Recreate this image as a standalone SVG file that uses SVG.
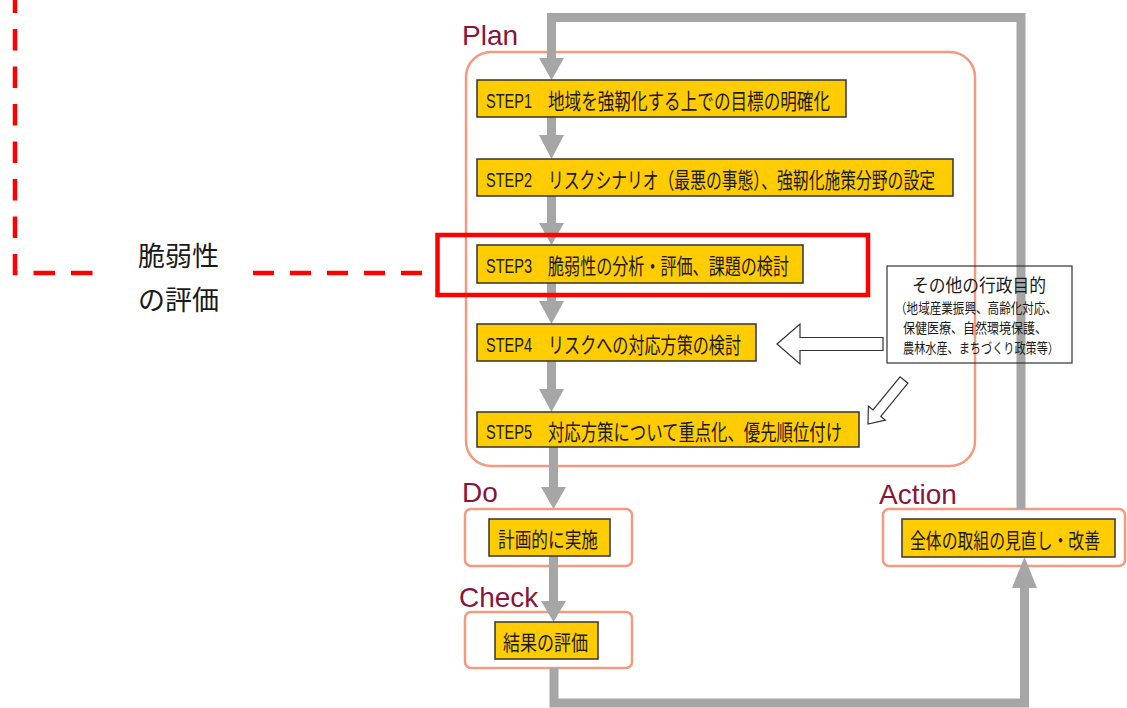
<svg xmlns="http://www.w3.org/2000/svg" width="1127" height="708" viewBox="0 0 1127 708">
<style>
.frame{fill:none;stroke:#f39a80;stroke-width:2.5}
.step{fill:#ffcc00;stroke:#333;stroke-width:1.5}
.jp{font-family:"Noto Sans CJK JP","Noto Sans",sans-serif;fill:#1a1a1a}
.lat{font-family:"Liberation Sans",Arial,sans-serif;fill:#1a1a1a;font-size:21px}
.ph{font-family:"Liberation Sans",Arial,sans-serif;fill:#8b1538;font-size:28px}
.gl{fill:none;stroke:#a6a6a6;stroke-width:9;stroke-linejoin:miter}
.gh{fill:#a6a6a6}
.hollow{fill:#fff;stroke:#333;stroke-width:1.2}
.red{fill:none;stroke:#ff0000;stroke-width:4.5}
</style>
<rect width="1127" height="708" fill="#fff"/>

<g id="phase-frames">
<rect class="frame" x="466" y="52" width="509" height="414" rx="25"/>
<rect class="frame" x="465" y="509" width="167" height="57" rx="6"/>
<rect class="frame" x="465" y="612" width="167" height="56" rx="6"/>
<rect class="frame" x="883" y="509" width="242" height="57" rx="6"/>
<text class="ph" x="462" y="45">Plan</text>
<text class="ph" x="462" y="502">Do</text>
<text class="ph" x="459" y="607">Check</text>
<text class="ph" x="879" y="504">Action</text>
</g>

<g id="connectors">
<path class="gl" d="M1021,509 V17.5 H551.5 V60"/>
<polygon class="gh" points="539,58 564,58 551.5,80"/>
<path class="gl" d="M551.5,117 V137"/>
<polygon class="gh" points="539,135 564,135 551.5,159"/>
<path class="gl" d="M551.5,196 V225"/>
<polygon class="gh" points="539,223 564,223 551.5,245"/>
<path class="gl" d="M551.5,283 V303"/>
<polygon class="gh" points="539,301 564,301 551.5,324"/>
<path class="gl" d="M551.5,361 V391"/>
<polygon class="gh" points="539,389 564,389 551.5,412"/>
<path class="gl" d="M553.5,447 V489"/>
<polygon class="gh" points="541,487 566,487 553.5,509"/>
<path class="gl" d="M553.5,556 V603"/>
<polygon class="gh" points="541,601 566,601 553.5,622"/>
<path class="gl" d="M554,668 V703 H1024.5 V586"/>
<polygon class="gh" points="1012,588 1037,588 1024.5,557"/>
<polygon class="hollow" points="777,344 800,324 800,337.5 883,337.5 883,350.5 800,350.5 800,364"/>
<polygon class="hollow" points="907.9,383.2 880.8,416.4 885.4,420.2 868,424 868.4,406.2 873,410 900.1,376.8"/>
</g>

<g id="step1">
<rect class="step" x="477" y="80" width="369" height="37"/>
<text class="lat" x="486" y="107.5" textLength="46" lengthAdjust="spacingAndGlyphs">STEP1</text>
<text class="jp" x="548" y="108.5" font-size="22" textLength="282" lengthAdjust="spacingAndGlyphs">地域を強靭化する上での目標の明確化</text>
</g>
<g id="step2">
<rect class="step" x="477" y="159" width="476" height="37"/>
<text class="lat" x="486" y="186.5" textLength="46" lengthAdjust="spacingAndGlyphs">STEP2</text>
<text class="jp" x="548" y="187.5" font-size="22" textLength="387" lengthAdjust="spacingAndGlyphs">リスクシナリオ（最悪の事態）、強靭化施策分野の設定</text>
</g>
<g id="step3">
<rect class="step" x="477" y="245" width="326" height="38"/>
<text class="lat" x="486" y="273" textLength="46" lengthAdjust="spacingAndGlyphs">STEP3</text>
<text class="jp" x="548" y="274" font-size="22" textLength="241" lengthAdjust="spacingAndGlyphs">脆弱性の分析・評価、課題の検討</text>
</g>
<g id="step4">
<rect class="step" x="477" y="324" width="279" height="37"/>
<text class="lat" x="486" y="351.5" textLength="46" lengthAdjust="spacingAndGlyphs">STEP4</text>
<text class="jp" x="548" y="352.5" font-size="22" textLength="193" lengthAdjust="spacingAndGlyphs">リスクへの対応方策の検討</text>
</g>
<g id="step5">
<rect class="step" x="477" y="412" width="382" height="35"/>
<text class="lat" x="486" y="438.5" textLength="46" lengthAdjust="spacingAndGlyphs">STEP5</text>
<text class="jp" x="548" y="439.5" font-size="22" textLength="294" lengthAdjust="spacingAndGlyphs">対応方策について重点化、優先順位付け</text>
</g>
<g id="do">
<rect class="step" x="489" y="519" width="121" height="37"/>
<text class="jp" x="498" y="547" font-size="21" textLength="100" lengthAdjust="spacingAndGlyphs">計画的に実施</text>
</g>
<g id="check">
<rect class="step" x="495" y="622" width="103" height="37"/>
<text class="jp" x="503" y="650" font-size="21" textLength="85" lengthAdjust="spacingAndGlyphs">結果の評価</text>
</g>
<g id="action">
<rect class="step" x="902" y="519" width="213" height="38"/>
<text class="jp" x="910" y="547.5" font-size="21" textLength="190" lengthAdjust="spacingAndGlyphs">全体の取組の見直し・改善</text>
</g>
<g id="other-goals">
<rect x="887" y="266" width="185" height="97" fill="none" stroke="#333" stroke-width="1.2"/>
<text class="jp" x="912" y="292" font-size="18.5" textLength="134" lengthAdjust="spacingAndGlyphs">その他の行政目的</text>
<text class="jp" x="895" y="313" font-size="14" textLength="162" lengthAdjust="spacingAndGlyphs">（地域産業振興、高齢化対応、</text>
<text class="jp" x="903" y="333" font-size="14" textLength="144" lengthAdjust="spacingAndGlyphs">保健医療、自然環境保護、</text>
<text class="jp" x="903" y="353" font-size="14" textLength="156" lengthAdjust="spacingAndGlyphs">農林水産、まちづくり政策等）</text>
</g>

<g id="vulnerability-highlight">
<rect class="red" x="437.5" y="235" width="430.5" height="60"/>
<path class="red" d="M15,0 V273 H93" stroke-dasharray="21.5 16" stroke-dashoffset="8.5"/>
<path class="red" d="M253,273 H423" stroke-dasharray="21 16"/>
<text class="jp" x="138" y="266" font-size="27">脆弱性</text>
<text class="jp" x="138" y="310" font-size="27">の評価</text>
</g>
</svg>
